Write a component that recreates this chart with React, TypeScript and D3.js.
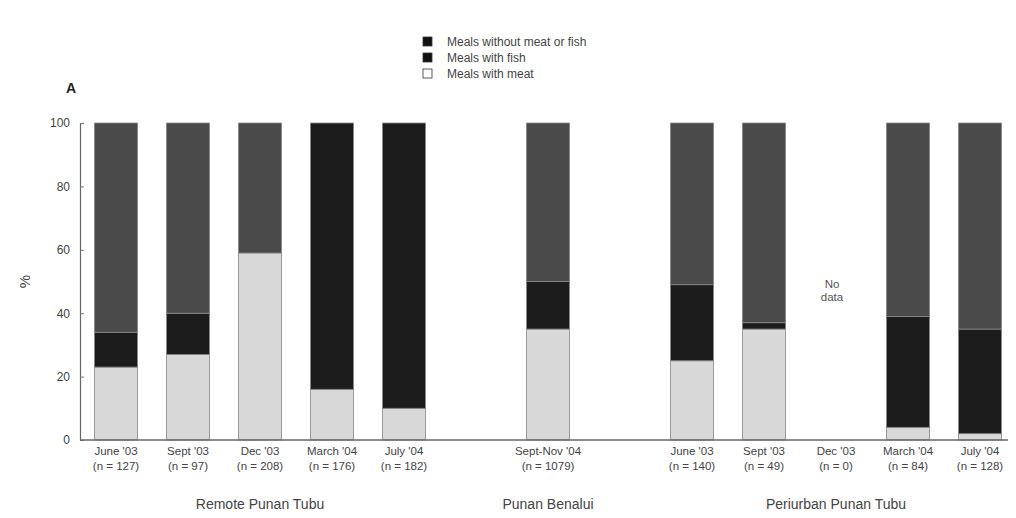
import React, { useEffect, useRef } from "react";
import * as d3 from "d3";

// slots on the x axis (gaps between the three sites are empty slots)
const slots = ["r1", "r2", "r3", "r4", "r5", "gapA", "b1", "gapB", "p1", "p2", "p3", "p4", "p5"];
const barSlots = ["r1", "r2", "r3", "r4", "r5", "b1", "p1", "p2", "p3", "p4", "p5"];
const periodLabels = ["June '03", "Sept '03", "Dec '03", "March '04", "July '04", "Sept-Nov '04", "June '03", "Sept '03", "Dec '03", "March '04", "July '04"];
const sampleLabels = ["(n = 127)", "(n = 97)", "(n = 208)", "(n = 176)", "(n = 182)", "(n = 1079)", "(n = 140)", "(n = 49)", "(n = 0)", "(n = 84)", "(n = 128)"];
const barGroup = [0, 0, 0, 0, 0, 1, 2, 2, 2, 2, 2];
const groupNames = ["Remote Punan Tubu", "Punan Benalui", "Periurban Punan Tubu"];

// percentages, null = no data
const meatPct = [23, 27, 59, 16, 10, 35, 25, 35, null, 4, 2];
const fishPct = [11, 13, 0, 84, 90, 15, 24, 2, null, 35, 33];
const nonePct = [66, 60, 41, 0, 0, 50, 51, 63, null, 61, 65];

const seriesKeys = ["meat", "fish", "none"];
const seriesColor = { meat: "#d8d8d8", fish: "#1c1c1c", none: "#4a4a4a" };
const legendItems = [
  { key: "none", label: "Meals without meat or fish" },
  { key: "fish", label: "Meals with fish" },
  { key: "meat", label: "Meals with meat" },
];
const yTicks = [0, 20, 40, 60, 80, 100];

const W = 1016, H = 518;
const font = "'Liberation Sans', Arial, sans-serif";

function FoodChart() {
  const svgRef = useRef();

  useEffect(() => {
    const svg = d3.select(svgRef.current);
    svg.selectAll("*").remove();

    const x = d3.scaleBand().domain(slots).range([80, 1016]).paddingInner(0.4).paddingOuter(0.2);
    const y = d3.scaleLinear().domain([0, 100]).range([440, 123]);

    const rows = barSlots.map((s, i) => ({
      slot: s, meat: meatPct[i] ?? 0, fish: fishPct[i] ?? 0, none: nonePct[i] ?? 0, missing: meatPct[i] == null,
    }));
    const stacked = d3.stack().keys(seriesKeys)(rows);

    // bars
    svg.append("g")
      .selectAll("g")
      .data(stacked)
      .join("g")
      .attr("fill", (d) => seriesColor[d.key])
      .selectAll("rect")
      .data((d) => d.filter((p) => !p.data.missing && p[1] - p[0] > 0))
      .join("rect")
      .attr("x", (p) => x(p.data.slot))
      .attr("width", x.bandwidth())
      .attr("y", (p) => y(p[1]))
      .attr("height", (p) => y(p[0]) - y(p[1]))
      .attr("stroke", "#8a8a8a")
      .attr("stroke-width", 0.8);

    // "No data" note
    rows.filter((r) => r.missing).forEach((r) => {
      const cx = x(r.slot) + x.bandwidth() / 2 - 4;
      const t = svg.append("text").attr("text-anchor", "middle").attr("font-family", font)
        .attr("font-size", 11.5).attr("fill", "#555");
      t.append("tspan").attr("x", cx).attr("y", y(50) + 6).text("No");
      t.append("tspan").attr("x", cx).attr("y", y(50) + 19).text("data");
    });

    // y axis
    const yAxis = d3.axisLeft(y).tickValues(yTicks).tickSizeInner(-4).tickSizeOuter(0).tickPadding(10);
    const ga = svg.append("g").attr("transform", "translate(80,0)").call(yAxis);
    ga.select(".domain").attr("stroke", "#666").attr("stroke-width", 1.2);
    ga.selectAll(".tick line").attr("stroke", "#777");
    ga.selectAll("text").attr("font-family", font).attr("font-size", 12).attr("fill", "#444");

    // baseline
    svg.append("line")
      .attr("x1", 80).attr("x2", 1016).attr("y1", y(0)).attr("y2", y(0))
      .attr("stroke", "#666").attr("stroke-width", 1.5);

    // y label
    svg.append("text")
      .attr("transform", `translate(30,${y(50)}) rotate(-90)`)
      .attr("text-anchor", "middle").attr("font-family", font).attr("font-size", 15).attr("fill", "#444")
      .text("%");

    // bar labels
    const lab = svg.append("g").attr("font-family", font).attr("font-size", 11.5).attr("fill", "#444")
      .attr("text-anchor", "middle");
    barSlots.forEach((s, i) => {
      const cx = x(s) + x.bandwidth() / 2;
      lab.append("text").attr("x", cx).attr("y", 455).text(periodLabels[i]);
      lab.append("text").attr("x", cx).attr("y", 470).text(sampleLabels[i]);
    });

    // group labels
    groupNames.forEach((g, gi) => {
      const cs = barSlots.filter((_, i) => barGroup[i] === gi).map((s) => x(s) + x.bandwidth() / 2);
      svg.append("text")
        .attr("x", d3.mean(cs)).attr("y", 509)
        .attr("text-anchor", "middle").attr("font-family", font).attr("font-size", 14).attr("fill", "#444")
        .text(g);
    });

    // legend
    const lg = svg.append("g").attr("transform", "translate(423,37)");
    legendItems.forEach((it, i) => {
      const row = lg.append("g").attr("transform", `translate(0,${i * 16})`);
      row.append("rect").attr("width", 9).attr("height", 9)
        .attr("fill", it.key === "meat" ? "#fff" : "#111").attr("stroke", "#333").attr("stroke-width", 0.8);
      row.append("text").attr("x", 24).attr("y", 9).attr("font-family", font).attr("font-size", 12)
        .attr("fill", "#444").text(it.label);
    });

    // panel letter
    svg.append("text").attr("x", 66).attr("y", 93).attr("font-family", font).attr("font-size", 14)
      .attr("font-weight", "bold").attr("fill", "#222").text("A");
  }, []);

  return <svg ref={svgRef} width={W} height={H} style={{ display: "block" }} />;
}

export default function App() {
  return (
    <div style={{ margin: -8 }}>
      <FoodChart />
    </div>
  );
}
